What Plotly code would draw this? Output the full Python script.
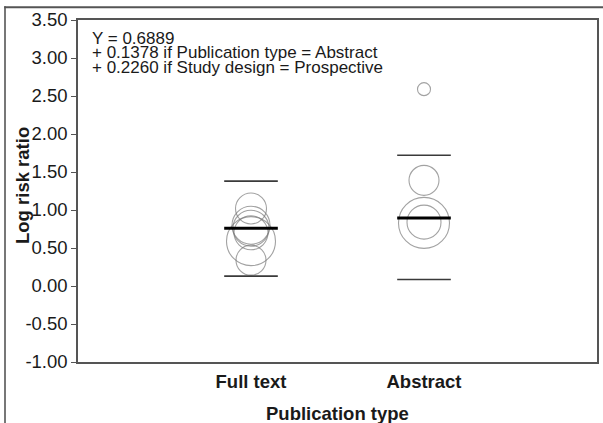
import plotly.graph_objects as go

# Publication-type groups and their plotted positions
categories = ["Full text", "Abstract"]
cat_pos = [1, 2]

# Individual study log risk ratios, with circle diameters proportional to weight
full_text_lrr = [1.02, 0.80, 0.76, 0.70, 0.59, 0.34]
full_text_weight = [31, 38, 36, 34, 49, 30]
abstract_lrr = [2.59, 1.39, 0.83, 0.84]
abstract_weight = [13, 30, 51, 34]

# Group summaries: weighted mean and interval limits
group_mean = [0.76, 0.895]
group_upper = [1.38, 1.72]
group_lower = [0.13, 0.085]

# Regression equation shown in the corner
equation_lines = [
    "Y = 0.6889",
    "+ 0.1378 if Publication type = Abstract",
    "+ 0.2260 if Study design = Prospective",
]

y_tickvals = [-1.0, -0.5, 0.0, 0.5, 1.0, 1.5, 2.0, 2.5, 3.0, 3.5]
y_ticktext = ["-1.00", "-0.50", "0.00", "0.50", "1.00", "1.50", "2.00", "2.50", "3.00", "3.50"]

FONT = "Liberation Sans, Arial, Helvetica, sans-serif"
INK = "#1a1a1a"
FRAME = "#555555"
HALF = 0.155

W, H = 603, 423


def px_x(px):
    return px / W


def px_y(py):
    return (H - py) / H


fig = go.Figure()

study_sets = [(full_text_lrr, full_text_weight), (abstract_lrr, abstract_weight)]
for pos, (vals, sizes) in zip(cat_pos, study_sets):
    fig.add_trace(go.Scatter(
        x=[pos] * len(vals), y=vals, mode="markers",
        marker=dict(symbol="circle-open", size=sizes, color="#7a7a7a",
                    line=dict(width=1.1, color="#7a7a7a")),
        showlegend=False, hoverinfo="y",
    ))

for pos, lo, hi, m in zip(cat_pos, group_lower, group_upper, group_mean):
    for val in (lo, hi):
        fig.add_trace(go.Scatter(
            x=[pos - HALF, pos + HALF], y=[val, val], mode="lines",
            line=dict(color="#3a3a3a", width=1.6), showlegend=False, hoverinfo="skip",
        ))
    fig.add_trace(go.Scatter(
        x=[pos - HALF, pos + HALF], y=[m, m], mode="lines",
        line=dict(color="#000000", width=3), showlegend=False, hoverinfo="skip",
    ))

for txt, py in zip(equation_lines, [38.5, 53, 67.5]):
    fig.add_annotation(
        text=txt, xref="paper", yref="paper", x=px_x(90), y=px_y(py),
        xanchor="left", yanchor="middle", showarrow=False,
        font=dict(family=FONT, size=17, color=INK),
    )

# Axis titles
fig.add_annotation(
    text="<b>Log risk ratio</b>", xref="paper", yref="paper",
    x=px_x(22), y=px_y(186), xanchor="center", yanchor="middle", textangle=-90,
    showarrow=False, font=dict(family=FONT, size=18.5, color=INK),
)
fig.add_annotation(
    text="<b>Publication type</b>", xref="paper", yref="paper",
    x=px_x(337.5), y=px_y(413), xanchor="center", yanchor="middle",
    showarrow=False, font=dict(family=FONT, size=18.5, color=INK),
)

# Outer frame of the figure: thin filled bars for its left and top edges
fig.add_shape(type="rect", xref="paper", yref="paper",
              x0=px_x(4.2), x1=px_x(5.8), y0=0, y1=px_y(6.2),
              fillcolor=FRAME, line=dict(width=0), layer="above")
fig.add_shape(type="rect", xref="paper", yref="paper",
              x0=px_x(4.2), x1=1, y0=px_y(8.2), y1=px_y(6.2),
              fillcolor=FRAME, line=dict(width=0), layer="above")

fig.update_layout(
    width=W, height=H,
    margin=dict(l=0, r=0, t=0, b=0, autoexpand=False),
    paper_bgcolor="white", plot_bgcolor="white",
    font=dict(family=FONT, color=INK),
    xaxis=dict(
        domain=[px_x(78), px_x(597)], automargin=False,
        range=[0, 3], tickvals=cat_pos, ticktext=[f"<b>{c}</b>" for c in categories],
        showgrid=False, zeroline=False, showline=True, mirror=True,
        linecolor=FRAME, linewidth=1.5, ticks="", ticklabelstandoff=2,
        tickfont=dict(family=FONT, size=18.5, color=INK),
    ),
    yaxis=dict(
        domain=[px_y(362), px_y(20)], automargin=False,
        range=[-1.0, 3.5], tickvals=y_tickvals, ticktext=y_ticktext,
        showgrid=False, zeroline=False, showline=True, mirror=True,
        linecolor=FRAME, linewidth=1.5, ticks="outside", ticklen=5,
        tickcolor=FRAME, tickwidth=1.2,
        tickfont=dict(family=FONT, size=18.5, color=INK),
    ),
)

fig.write_html("out.html")
